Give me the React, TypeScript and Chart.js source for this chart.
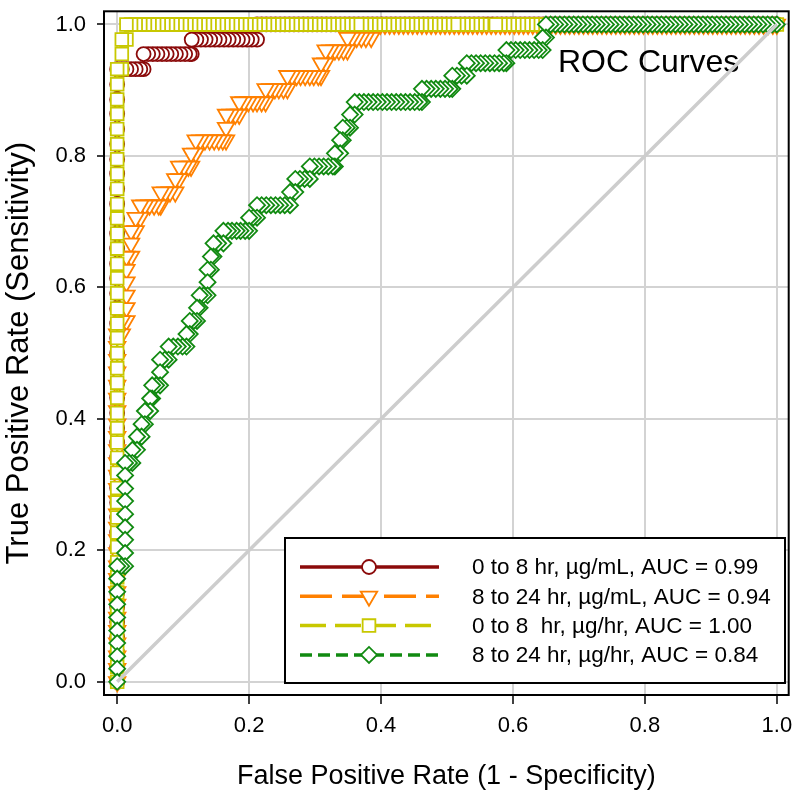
import React, { useEffect, useRef } from 'react';
import { Chart, registerables } from 'chart.js';

Chart.register(...registerables);

// ---------- data ----------
const tickValues = [0, 0.2, 0.4, 0.6, 0.8, 1.0];
const chartTitle = 'ROC Curves';
const xAxisTitle = 'False Positive Rate (1 - Specificity)';
const yAxisTitle = 'True Positive Rate (Sensitivity)';
const seriesLabels = [
  '0 to 8 hr, µg/mL, AUC = 0.99',
  '8 to 24 hr, µg/mL, AUC = 0.94',
  '0 to 8  hr, µg/hr, AUC = 1.00',
  '8 to 24 hr, µg/hr, AUC = 0.84',
];
const chanceLine = [0, 1];

// rows: [TPR, list of FPR values at that TPR]
const redRows: [number, number[]][] = [
  [0.000,[0]],[0.023,[0]],[0.045,[0]],[0.068,[0]],[0.091,[0]],[0.114,[0]],[0.136,[0]],[0.159,[0]],[0.182,[0]],[0.205,[0]],
  [0.227,[0]],[0.250,[0]],[0.273,[0]],[0.295,[0]],[0.318,[0]],[0.341,[0]],[0.364,[0]],[0.386,[0]],[0.409,[0]],[0.432,[0]],
  [0.455,[0]],[0.477,[0]],[0.500,[0]],[0.523,[0]],[0.545,[0]],[0.568,[0]],[0.591,[0]],[0.614,[0]],[0.636,[0]],[0.659,[0]],
  [0.682,[0]],[0.705,[0]],[0.727,[0]],[0.750,[0]],[0.773,[0]],[0.795,[0]],[0.818,[0]],[0.841,[0]],[0.864,[0]],[0.886,[0]],
  [0.909,[0]],
  [0.932,[0,0.007,0.014,0.021,0.028,0.035,0.040]],
  [0.955,[0.040,0.047,0.054,0.061,0.068,0.075,0.082,0.089,0.096,0.103,0.110,0.113]],
  [0.977,[0.113,0.120,0.127,0.134,0.141,0.148,0.155,0.162,0.169,0.176,0.183,0.190,0.197,0.204,0.212]],
  [1.000,[0.212,0.219,0.226,0.233,0.240,0.247,0.254,0.261,0.268,0.275,0.282,0.289,0.296,0.303,0.310,0.317,0.324,0.331,0.338,0.345,
    0.352,0.359,0.366,0.373,0.380,0.387,0.394,0.401,0.408,0.415,0.422,0.429,0.436,0.443,0.450,0.457,0.464,0.471,0.478,0.485,
    0.492,0.499,0.506,0.513,0.520,0.527,0.534,0.541,0.548,0.555,0.562,0.569,0.576,0.583,0.590,0.597,0.604,0.611,0.618,0.625,
    0.632,0.639,0.646,0.653,0.660,0.667,0.674,0.681,0.688,0.695,0.702,0.709,0.716,0.723,0.730,0.737,0.744,0.751,0.758,0.765,
    0.772,0.779,0.786,0.793,0.800,0.807,0.814,0.821,0.828,0.835,0.842,0.849,0.856,0.863,0.870,0.877,0.884,0.891,0.898,0.905,
    0.912,0.919,0.926,0.933,0.940,0.947,0.954,0.961,0.968,0.975,0.982,0.989,0.996,1.000]],
];

const orangeRows: [number, number[]][] = [
  [0.000,[0]],[0.020,[0]],[0.039,[0]],[0.059,[0]],[0.078,[0]],[0.098,[0]],[0.118,[0]],[0.137,[0]],[0.157,[0]],[0.176,[0]],
  [0.196,[0]],[0.216,[0]],[0.235,[0]],[0.255,[0]],[0.275,[0]],[0.294,[0]],[0.314,[0]],[0.333,[0]],[0.353,[0]],[0.373,[0]],
  [0.392,[0]],[0.412,[0]],[0.431,[0]],[0.451,[0]],[0.471,[0]],[0.490,[0]],[0.510,[0]],
  [0.529,[0,0.007]],
  [0.549,[0.007,0.014]],
  [0.569,[0.014]],[0.588,[0.014]],[0.608,[0.014]],[0.627,[0.014]],
  [0.647,[0.014,0.021]],
  [0.667,[0.021]],
  [0.686,[0.021,0.028]],
  [0.706,[0.028,0.035]],
  [0.725,[0.035,0.042,0.049,0.056,0.063,0.066]],
  [0.745,[0.066,0.073,0.080,0.088]],
  [0.765,[0.088,0.094]],
  [0.784,[0.094,0.101,0.108,0.112]],
  [0.804,[0.112,0.119]],
  [0.824,[0.119,0.126,0.133,0.140,0.147,0.154,0.160,0.165]],
  [0.843,[0.165]],
  [0.863,[0.165,0.172,0.179,0.185]],
  [0.882,[0.185,0.192,0.199,0.206,0.212,0.219,0.225]],
  [0.902,[0.225,0.232,0.239,0.245,0.252,0.258]],
  [0.922,[0.258,0.265,0.272,0.278,0.285,0.292,0.298,0.305,0.309]],
  [0.941,[0.309,0.316]],
  [0.961,[0.316,0.323,0.330,0.336,0.343,0.349]],
  [0.980,[0.349,0.356,0.363,0.370,0.377,0.385]],
  [1.000,[0.385,0.392,0.399,0.406,0.413,0.420,0.427,0.434,0.441,0.448,0.455,0.462,0.469,0.476,0.483,0.490,0.497,0.504,0.511,0.518,
    0.525,0.532,0.539,0.546,0.553,0.560,0.567,0.574,0.581,0.588,0.595,0.602,0.609,0.616,0.623,0.630,0.637,0.644,0.651,0.658,
    0.665,0.672,0.679,0.686,0.693,0.700,0.707,0.714,0.721,0.728,0.735,0.742,0.749,0.756,0.763,0.770,0.777,0.784,0.791,0.798,
    0.805,0.812,0.819,0.826,0.833,0.840,0.847,0.854,0.861,0.868,0.875,0.882,0.889,0.896,0.903,0.910,0.917,0.924,0.931,0.938,
    0.945,0.952,0.959,0.966,0.973,0.980,0.987,0.994,1.000]],
];

const yellowRows: [number, number[]][] = [
  [0.000,[0]],[0.023,[0]],[0.045,[0]],[0.068,[0]],[0.091,[0]],[0.114,[0]],[0.136,[0]],[0.159,[0]],[0.182,[0]],[0.205,[0]],
  [0.227,[0]],[0.250,[0]],[0.273,[0]],[0.295,[0]],[0.318,[0]],[0.341,[0]],[0.364,[0]],[0.386,[0]],[0.409,[0]],[0.432,[0]],
  [0.455,[0]],[0.477,[0]],[0.500,[0]],[0.523,[0]],[0.545,[0]],[0.568,[0]],[0.591,[0]],[0.614,[0]],[0.636,[0]],[0.659,[0]],
  [0.682,[0]],[0.705,[0]],[0.727,[0]],[0.750,[0]],[0.773,[0]],[0.795,[0]],[0.818,[0]],[0.841,[0]],[0.864,[0]],[0.886,[0]],
  [0.909,[0]],
  [0.932,[0,0.007]],
  [0.955,[0.007]],
  [0.977,[0.007,0.014]],
  [1.000,[0.014,0.021,0.028,0.035,0.042,0.049,0.056,0.063,0.070,0.077,0.084,0.091,0.098,0.105,0.112,0.119,0.126,0.133,0.140,0.147,
    0.154,0.161,0.168,0.175,0.182,0.189,0.196,0.203,0.210,0.217,0.224,0.231,0.238,0.245,0.252,0.259,0.266,0.273,0.280,0.287,
    0.294,0.301,0.308,0.315,0.322,0.329,0.336,0.343,0.350,0.364,0.371,0.378,0.385,0.392,0.399,0.406,0.413,0.420,0.427,
    0.434,0.441,0.448,0.455,0.462,0.469,0.476,0.483,0.490,0.497,0.511,0.518,0.525,0.532,0.539,0.546,0.553,0.574,
    0.581,0.588,0.595,0.602,0.609,0.616,0.623,0.630,0.637,0.644,0.651,0.658,0.665,0.672,0.679,0.686,0.693,0.700,0.707,0.714,
    0.721,0.728,0.735,0.742,0.749,0.756,0.763,0.777,0.784,0.791,0.798,0.805,0.812,0.819,0.826,0.833,0.840,0.847,0.854,
    0.861,0.868,0.875,0.882,0.889,0.896,0.903,0.910,0.917,0.924,0.931,0.938,0.945,0.952,0.959,0.966,0.973,0.980,0.987,0.994,1.000]],
];

const greenRows: [number, number[]][] = [
  [0.000,[0]],[0.020,[0]],[0.039,[0]],[0.059,[0]],[0.078,[0]],[0.098,[0]],[0.118,[0]],[0.137,[0]],[0.157,[0]],
  [0.176,[0,0.006,0.012]],
  [0.196,[0.012]],[0.216,[0.012]],[0.235,[0.012]],[0.255,[0.012]],[0.275,[0.012]],[0.294,[0.012]],[0.314,[0.012]],
  [0.333,[0.012,0.018,0.023]],
  [0.353,[0.023,0.030]],
  [0.373,[0.030,0.037]],
  [0.392,[0.037,0.042]],
  [0.412,[0.042,0.050]],
  [0.431,[0.050,0.053]],
  [0.451,[0.053,0.059,0.065]],
  [0.471,[0.065]],
  [0.490,[0.065,0.072,0.078]],
  [0.510,[0.078,0.085,0.092,0.099,0.105]],
  [0.529,[0.105,0.110]],
  [0.549,[0.110,0.116,0.121]],
  [0.569,[0.121,0.125]],
  [0.588,[0.125,0.131,0.137]],
  [0.608,[0.137]],
  [0.627,[0.137,0.142]],
  [0.647,[0.142,0.146]],
  [0.667,[0.146,0.153,0.161]],
  [0.686,[0.161,0.168,0.174,0.181,0.187,0.194,0.200]],
  [0.706,[0.200,0.206,0.212]],
  [0.725,[0.212,0.219,0.226,0.233,0.240,0.247,0.254,0.262]],
  [0.745,[0.262,0.270]],
  [0.765,[0.270,0.277,0.284,0.292]],
  [0.784,[0.292,0.299,0.306,0.313,0.320,0.327,0.330]],
  [0.804,[0.330,0.338]],
  [0.824,[0.338,0.342]],
  [0.843,[0.342,0.348,0.353]],
  [0.863,[0.353,0.360]],
  [0.882,[0.360,0.367,0.374,0.381,0.388,0.395,0.402,0.409,0.416,0.423,0.430,0.437,0.444,0.451,0.458,0.462]],
  [0.902,[0.462,0.469,0.476,0.483,0.490,0.497,0.504,0.508]],
  [0.922,[0.508,0.515,0.522,0.530]],
  [0.941,[0.530,0.537,0.544,0.551,0.558,0.565,0.572,0.579,0.586,0.590]],
  [0.961,[0.590,0.597,0.604,0.611,0.618,0.625,0.632,0.639,0.645]],
  [0.980,[0.645,0.650]],
  [1.000,[0.650,0.657,0.664,0.671,0.678,0.685,0.692,0.699,0.706,0.713,0.720,0.727,0.734,0.741,0.748,0.755,0.762,0.769,0.776,0.783,
    0.790,0.797,0.804,0.811,0.818,0.825,0.832,0.839,0.846,0.853,0.860,0.867,0.874,0.881,0.888,0.895,0.902,0.909,0.916,0.923,
    0.930,0.937,0.944,0.951,0.958,0.965,0.972,0.979,0.986,0.993,1.000]],
];

// ---------- styles ----------
const FONT = "'Liberation Sans', Arial, Helvetica, sans-serif";
const seriesStyles = [
  { color: '#8b0a0a', dash: [] as number[], pointStyle: 'circle', radius: 7, rotation: 0 },
  { color: '#ff8000', dash: [32, 10], pointStyle: 'triangle', radius: 9.5, rotation: 180 },
  { color: '#c8c800', dash: [26, 9], pointStyle: 'rect', radius: 9, rotation: 0 },
  { color: '#118a11', dash: [12, 6], pointStyle: 'rectRot', radius: 8, rotation: 0 },
];

function rowsToPoints(rows: [number, number[]][]) {
  // ordered from (1,1) back to (0,0), so the leftmost markers are drawn last
  return rows.flatMap(([y, xs]) => xs.map((x) => ({ x, y }))).reverse();
}

function drawMarker(ctx: CanvasRenderingContext2D, style: string, x: number, y: number, r: number, rotationDeg: number) {
  ctx.beginPath();
  if (style === 'circle') {
    ctx.arc(x, y, r, 0, Math.PI * 2);
  } else if (style === 'triangle') {
    let rad = (rotationDeg * Math.PI) / 180;
    for (let i = 0; i < 3; i++) {
      const px = x + Math.sin(rad) * r;
      const py = y - Math.cos(rad) * r;
      if (i === 0) ctx.moveTo(px, py); else ctx.lineTo(px, py);
      rad += (2 * Math.PI) / 3;
    }
    ctx.closePath();
  } else if (style === 'rect') {
    const s = r * Math.SQRT1_2;
    ctx.rect(x - s, y - s, 2 * s, 2 * s);
  } else {
    ctx.moveTo(x - r, y);
    ctx.lineTo(x, y - r);
    ctx.lineTo(x + r, y);
    ctx.lineTo(x, y + r);
    ctx.closePath();
  }
  ctx.fill();
  ctx.stroke();
}

const decorPlugin = {
  id: 'rocDecor',
  beforeDatasetsDraw(chart: any) {
    const ctx = chart.ctx as CanvasRenderingContext2D;
    ctx.save();
    ctx.fillStyle = '#000';
    ctx.font = `32px ${FONT}`;
    ctx.textBaseline = 'alphabetic';
    ctx.textAlign = 'left';
    ctx.fillText(chartTitle, 558, 72);
    ctx.restore();
  },
  afterDatasetsDraw(chart: any) {
    const ctx = chart.ctx as CanvasRenderingContext2D;
    const ca = chart.chartArea;
    ctx.save();
    // legend box
    const bx = 285, by = 538, bw = 500, bh = 145;
    ctx.fillStyle = '#fff';
    ctx.fillRect(bx, by, bw, bh);
    ctx.strokeStyle = '#000';
    ctx.lineWidth = 2;
    ctx.setLineDash([]);
    ctx.strokeRect(bx, by, bw, bh);
    seriesLabels.forEach((label, i) => {
      const st = seriesStyles[i];
      const yy = 567 + i * 29.3;
      ctx.strokeStyle = st.color;
      ctx.lineWidth = 3.5;
      ctx.setLineDash(st.dash);
      ctx.beginPath();
      ctx.moveTo(300, yy);
      ctx.lineTo(439, yy);
      ctx.stroke();
      ctx.setLineDash([]);
      ctx.lineWidth = 1.8;
      ctx.fillStyle = '#fff';
      drawMarker(ctx, st.pointStyle, 369, yy, st.radius, st.rotation);
      ctx.fillStyle = '#000';
      ctx.font = `22.5px ${FONT}`;
      ctx.textBaseline = 'middle';
      ctx.textAlign = 'left';
      ctx.fillText(label, 472, yy + 1);
    });
    // frame
    ctx.strokeStyle = '#000';
    ctx.lineWidth = 2;
    ctx.strokeRect(ca.left, ca.top, ca.right - ca.left, ca.bottom - ca.top);
    ctx.restore();
  },
};

export default function App() {
  const canvasRef = useRef<HTMLCanvasElement | null>(null);

  useEffect(() => {
    const canvas = canvasRef.current;
    if (!canvas) return;
    const allRows = [redRows, orangeRows, yellowRows, greenRows];
    const datasets: any[] = allRows.map((rows, i) => {
      const st = seriesStyles[i];
      return {
        label: seriesLabels[i],
        data: rowsToPoints(rows),
        showLine: true,
        borderColor: st.color,
        borderWidth: 2.5,
        borderDash: st.dash,
        backgroundColor: '#ffffff',
        pointStyle: st.pointStyle,
        pointRadius: st.radius,
        pointRotation: st.rotation,
        pointBorderColor: st.color,
        pointBackgroundColor: '#ffffff',
        pointBorderWidth: 1.8,
        tension: 0,
        order: 4 - i,
        clip: false,
      };
    });
    datasets.push({
      label: 'chance',
      data: chanceLine.map((v) => ({ x: v, y: v })),
      showLine: true,
      borderColor: '#cdcdcd',
      borderWidth: 3.5,
      pointRadius: 0,
      order: -1,
    });

    const zeroPad = (scale: any) => {
      scale.paddingLeft = 0;
      scale.paddingRight = 0;
      scale.paddingTop = 0;
      scale.paddingBottom = 0;
    };

    const chart = new Chart(canvas, {
      type: 'scatter',
      data: { datasets },
      options: {
        responsive: false,
        animation: false,
        layout: { padding: { left: 0, right: 11, top: 9, bottom: 0 } },
        plugins: { legend: { display: false }, tooltip: { enabled: false } },
        scales: {
          x: {
            type: 'linear',
            position: 'bottom',
            min: -0.02,
            max: 1.018,
            afterBuildTicks: (axis: any) => { axis.ticks = tickValues.map((value) => ({ value })); },
            afterFit: (scale: any) => { scale.height = 108; zeroPad(scale); },
            border: { display: false },
            grid: { color: '#d3d3d3', lineWidth: 2, drawTicks: true, tickLength: 9, tickColor: '#000', tickWidth: 1.5 },
            ticks: {
              color: '#000',
              padding: 9,
              font: { family: FONT, size: 22 },
              callback: (v: any) => Number(v).toFixed(1),
            },
            title: {
              display: true,
              text: xAxisTitle,
              color: '#000',
              font: { family: FONT, size: 27 },
              padding: { top: 0, bottom: 10 },
            },
          },
          y: {
            type: 'linear',
            min: -0.02,
            max: 1.02,
            afterBuildTicks: (axis: any) => { axis.ticks = tickValues.map((value) => ({ value })); },
            afterFit: (scale: any) => { scale.width = 104; zeroPad(scale); },
            border: { display: false },
            grid: { color: '#d3d3d3', lineWidth: 2, drawTicks: true, tickLength: 7, tickColor: '#000', tickWidth: 1.5 },
            ticks: {
              color: '#000',
              padding: 11,
              font: { family: FONT, size: 22 },
              callback: (v: any) => Number(v).toFixed(1),
            },
            title: {
              display: true,
              text: yAxisTitle,
              color: '#000',
              font: { family: FONT, size: 31 },
              padding: { top: 1, bottom: 0 },
            },
          },
        },
      },
      plugins: [decorPlugin],
    } as any);
    return () => chart.destroy();
  }, []);

  return (
    <div style={{ position: 'absolute', left: 0, top: 0, width: 800, height: 803 }}>
      <canvas ref={canvasRef} width={800} height={803} style={{ display: 'block', width: 800, height: 803 }} />
    </div>
  );
}
